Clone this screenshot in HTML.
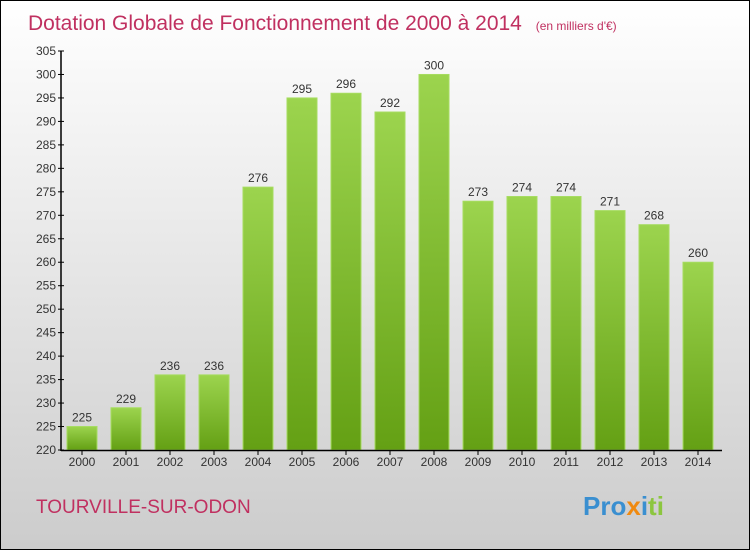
<!DOCTYPE html>
<html><head><meta charset="utf-8"><style>
body{margin:0}
svg{display:block;font-family:"Liberation Sans",sans-serif}
</style></head><body>
<svg width="750" height="550">
<defs>
<linearGradient id="bg" x1="0" y1="0" x2="0" y2="1"><stop offset="0" stop-color="#ffffff"/><stop offset="1" stop-color="#cccccc"/></linearGradient>
<linearGradient id="bar" x1="0" y1="0" x2="0" y2="1"><stop offset="0" stop-color="#9cd44e"/><stop offset="1" stop-color="#64a014"/></linearGradient>
</defs>
<rect x="0.5" y="0.5" width="749" height="549" fill="url(#bg)" stroke="#000"/>
<text x="28" y="30" font-size="21" fill="#c03060">Dotation Globale de Fonctionnement de 2000 à 2014 <tspan font-size="12" dx="8">(en milliers d'€)</tspan></text>
<g id="plot"></g>
<text x="36" y="513" font-size="19" fill="#c03060">TOURVILLE-SUR-ODON</text>
<text x="583" y="515" font-size="26" font-weight="bold"><tspan fill="#3a8fd0">Pro</tspan><tspan fill="#f08a10">x</tspan><tspan fill="#3a8fd0">i</tspan><tspan fill="#8cc63f">ti</tspan></text>
</svg>
<script>
const years=["2000","2001","2002","2003","2004","2005","2006","2007","2008","2009","2010","2011","2012","2013","2014"];
const values=[225,229,236,236,276,295,296,292,300,273,274,274,271,268,260];
const ticks=[220,225,230,235,240,245,250,255,260,265,270,275,280,285,290,295,300,305];
const NS="http://www.w3.org/2000/svg";
const g=document.getElementById('plot');
const y=v=>450-(v-220)*(399/85);
const x=i=>82+i*44;
function mk(t,a){const e=document.createElementNS(NS,t);for(const k in a)e.setAttribute(k,a[k]);g.appendChild(e);return e;}
ticks.forEach(t=>{
 const l=mk('line',{x1:58,x2:64,y1:y(t),y2:y(t),stroke:'#000'});
 
 
 const tx=mk('text',{x:56,y:y(t)+4,'font-size':12,'text-anchor':'end',fill:'#333'});tx.textContent=t;
 
 
});
values.forEach((v,i)=>{
 const r=mk('rect',{x:x(i)-15,y:y(v),width:30,height:450-y(v),fill:'url(#bar)',stroke:'#a6dc60','stroke-width':1});
 
 
 const t=mk('text',{x:x(i),y:y(v)-5,'font-size':12,'text-anchor':'middle',fill:'#333'});t.textContent=v;
 
 
 const k=mk('line',{x1:x(i),x2:x(i),y1:450,y2:455,stroke:'#000'});
 
 
 const yl=mk('text',{x:x(i),y:466,'font-size':12,'text-anchor':'middle',fill:'#333'});yl.textContent=years[i];
 
 
});
const ya=mk('line',{x1:61,x2:61,y1:y(305),y2:451,stroke:'#000','stroke-width':1.5});


const xa=mk('line',{x1:61,x2:722,y1:450.5,y2:450.5,stroke:'#000','stroke-width':1.5});


</script>
</body></html>
